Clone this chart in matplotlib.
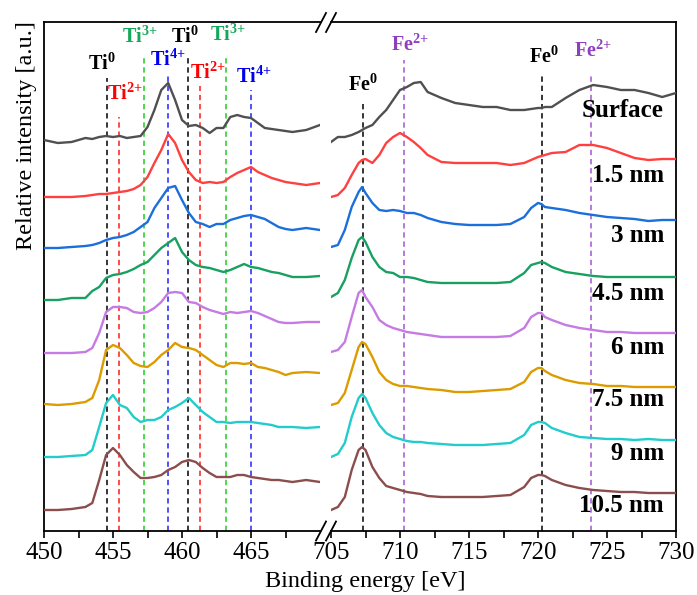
import numpy as np
import matplotlib
matplotlib.use('Agg')
import matplotlib.pyplot as plt
from matplotlib.lines import Line2D

plt.rcParams['font.family'] = ['Liberation Serif', 'DejaVu Serif']
plt.rcParams['mathtext.fontset'] = 'custom'
plt.rcParams['mathtext.rm'] = 'Liberation Serif'
plt.rcParams['mathtext.bf'] = 'Liberation Serif:bold'

# binding energies (eV), Ti 2p window and Fe 2p window
ti_energy = [450, 451, 452, 453, 453.5, 454, 454.5, 455, 455.5, 456, 456.5, 457, 457.5, 458, 458.5,
             459, 459.5, 460, 460.5, 461, 461.5, 462, 462.5, 463, 463.5, 464, 464.5, 465, 465.5,
             466, 466.5, 467, 467.5, 468, 469, 470]
fe_energy = [705, 705.5, 706, 706.5, 707, 707.25, 707.5, 708, 708.5, 709, 709.5, 710, 710.5, 711,
             711.5, 712, 713, 714, 715, 716, 717, 718, 719, 719.5, 720, 720.25, 720.5, 721, 722,
             723, 724, 725, 726, 727, 728, 729, 730]

depths = ['Surface', '1.5 nm', '3 nm', '4.5 nm', '6 nm', '7.5 nm', '9 nm', '10.5 nm']
colors = ['#505050', '#ff4040', '#1a6fdc', '#17a060', '#c57be3', '#dc9c00', '#22cccc', '#8b4d4d']

# stacked intensities (arbitrary units, offsets included)
ti_spectra = [
    [391, 388, 389, 393, 392, 394, 395, 394, 395, 393, 394, 395, 404, 421, 441, 448, 431, 411, 405, 406,
     403, 398, 403, 403, 414, 416, 414, 413, 408, 403, 402, 401, 400, 399, 401, 406],
    [334, 334, 334, 335, 336, 337, 337, 338, 339, 340, 342, 346, 354, 368, 381, 397, 388, 371, 359, 351,
     348, 349, 348, 349, 354, 358, 361, 364, 359, 356, 353, 351, 349, 348, 346, 348],
    [283, 283, 284, 285, 286, 288, 291, 293, 294, 296, 299, 304, 309, 323, 333, 343, 345, 331, 318, 309,
     307, 304, 307, 307, 311, 313, 315, 316, 314, 312, 308, 304, 302, 301, 303, 301],
    [231, 231, 233, 233, 240, 244, 253, 256, 257, 259, 262, 266, 269, 276, 283, 288, 293, 279, 271, 266,
     264, 263, 261, 259, 261, 264, 267, 264, 263, 261, 259, 258, 256, 254, 254, 255],
    [178, 178, 178, 179, 183, 198, 219, 224, 224, 223, 219, 218, 219, 223, 229, 238, 239, 238, 229, 228,
     224, 221, 219, 217, 219, 218, 219, 220, 218, 215, 212, 209, 208, 208, 209, 209],
    [127, 126, 127, 129, 133, 151, 181, 186, 183, 176, 168, 165, 164, 169, 176, 181, 188, 184, 183, 181,
     176, 171, 166, 164, 168, 168, 167, 168, 164, 163, 161, 159, 156, 158, 159, 158],
    [74, 74, 75, 76, 81, 104, 128, 136, 126, 123, 114, 109, 111, 111, 114, 121, 124, 128, 133, 126,
     119, 114, 109, 109, 108, 109, 109, 109, 108, 107, 106, 104, 104, 104, 103, 104],
    [21, 21, 22, 24, 28, 51, 76, 83, 76, 66, 59, 53, 53, 54, 56, 61, 64, 69, 71, 69,
     63, 58, 54, 54, 54, 56, 56, 54, 53, 52, 51, 51, 50, 49, 51, 49],
]
fe_spectra = [
    [389, 394, 394, 396, 399, 401, 403, 406, 414, 421, 431, 441, 444, 448, 449, 439, 433, 428, 426, 424,
     424, 421, 421, 422, 423, 423, 424, 424, 433, 441, 446, 444, 441, 441, 438, 434, 438],
    [334, 336, 343, 356, 368, 371, 372, 368, 376, 388, 394, 398, 394, 389, 383, 376, 369, 368, 368, 368,
     368, 366, 368, 371, 374, 375, 376, 378, 379, 386, 386, 383, 378, 373, 371, 372, 372],
    [284, 286, 301, 324, 339, 344, 338, 328, 321, 320, 321, 320, 318, 318, 316, 313, 309, 307, 306, 306,
     306, 307, 314, 323, 328, 327, 324, 323, 321, 318, 316, 314, 313, 312, 310, 311, 311],
    [234, 238, 251, 273, 291, 294, 289, 274, 264, 259, 258, 254, 254, 253, 251, 249, 248, 248, 248, 248,
     248, 249, 258, 266, 268, 269, 268, 264, 259, 257, 255, 254, 254, 254, 254, 254, 254],
    [179, 181, 189, 214, 238, 241, 234, 224, 211, 206, 203, 201, 199, 198, 197, 196, 194, 194, 194, 194,
     194, 195, 203, 214, 218, 218, 214, 211, 206, 203, 201, 199, 199, 198, 198, 198, 198],
    [126, 128, 138, 161, 184, 189, 187, 174, 159, 151, 147, 145, 145, 144, 143, 142, 141, 139, 139, 140,
     141, 142, 149, 159, 163, 163, 160, 156, 151, 148, 147, 145, 145, 144, 144, 144, 144],
    [74, 77, 88, 114, 133, 137, 133, 118, 106, 98, 94, 92, 90, 89, 89, 88, 87, 86, 86, 86,
     87, 88, 96, 106, 109, 109, 108, 103, 98, 94, 93, 92, 92, 91, 92, 91, 91],
    [21, 24, 34, 61, 81, 84, 81, 64, 53, 45, 43, 41, 39, 38, 37, 35, 34, 34, 34, 34,
     35, 36, 44, 53, 56, 56, 55, 51, 46, 43, 41, 40, 39, 39, 38, 38, 38],
]
label_y = [421, 356, 296, 238, 184, 131, 78, 25]

# reference lines: position, top, colour
ti_refs = [(454.55, 453, 'black'), (455.4, 414, '#ff1a1a'), (457.25, 476, '#22cc22'),
           (459.0, 457, '#2222ff'), (460.45, 476, 'black'), (461.3, 445, '#ff1a1a'),
           (463.2, 476, '#22cc22'), (465.0, 441, '#2222ff')]
fe_refs = [(707.35, 429, 'black'), (710.3, 471, '#a455d0'), (720.3, 457, 'black'),
           (723.85, 458, '#a455d0')]

# annotations: x, y, base, superscript, colour
ti_labels = [(454.2, 467, 'Ti', '0', 'black'), (455.85, 437, 'Ti', '2{+}', '#ff0000'),
             (456.96, 494, 'Ti', '3{+}', '#14a85a'), (458.95, 471, 'Ti', '4{+}', '#0000ee'),
             (460.18, 494, 'Ti', '0', 'black'), (461.88, 458, 'Ti', '2{+}', '#ff0000'),
             (463.33, 496, 'Ti', '3{+}', '#14a85a'), (465.2, 454, 'Ti', '4{+}', '#0000ee')]
fe_labels = [(707.32, 446, 'Fe', '0', 'black'), (710.72, 486, 'Fe', '2{+}', '#8e3fbf'),
             (720.4, 474, 'Fe', '0', 'black'), (723.95, 480, 'Fe', '2{+}', '#8e3fbf')]

W, H = 697, 595
fig = plt.figure(figsize=(W / 100, H / 100), dpi=100)
ax1 = fig.add_axes([44 / W, 64 / H, 276 / W, 509 / H])
ax2 = fig.add_axes([331 / W, 64 / H, 345 / W, 509 / H])

for ax, xs, spectra, refs, labels, lim in [
        (ax1, ti_energy, ti_spectra, ti_refs, ti_labels, (450, 470)),
        (ax2, fe_energy, fe_spectra, fe_refs, fe_labels, (705, 730))]:
    for ys, c in zip(spectra, colors):
        ax.plot(xs, ys, color=c, lw=1.7, zorder=3)
    for xr, top, c in refs:
        ax.plot([xr, xr], [0, top], color=c, lw=1.1, ls=(0, (3.5, 2.5)), zorder=2)
    for xl, yl, base, sup, c in labels:
        ax.text(xl, yl, base + r'$^{\mathbf{' + sup + '}}$', color=c, fontsize=14.5,
                fontweight='bold', ha='center', va='center')
    ax.set_xlim(*lim)
    ax.set_ylim(0, 509)
    ax.set_yticks([])
    ax.set_xticks(np.arange(lim[0], lim[1] + 0.1, 5))
    ax.set_xticks(np.arange(lim[0], lim[1] + 0.1, 2.5), minor=True)
    ax.tick_params(axis='x', which='both', direction='out', length=5, width=1.2,
                   labelsize=18, pad=3)
    for s in ax.spines.values():
        s.set_linewidth(1.3)

ax1.set_xticks([450, 455, 460, 465])
ax1.set_xticks([452.5, 457.5, 462.5, 467.5], minor=True)
ax1.spines['right'].set_visible(False)
ax2.spines['left'].set_visible(False)

for name, yl in zip(depths, label_y):
    ax2.text(729.13, yl, name, fontsize=18, fontweight='bold', ha='right', va='center', zorder=4)

fig.text(27 / W, 1 - 136 / H, 'Relative intensity [a.u.]', rotation=90, fontsize=17.5,
         ha='center', va='center')
fig.text(365 / W, 1 - 582 / H, 'Binding energy [eV]', fontsize=17.5, ha='center', va='center')

# axis break marks
for cx in (321, 331):
    for cy in (22.5, 531):
        fig.add_artist(Line2D([(cx - 5) / W, (cx + 5) / W], [1 - (cy + 9.5) / H, 1 - (cy - 9.5) / H],
                              color='black', lw=1.3))

fig.savefig('out.png', dpi=100)
